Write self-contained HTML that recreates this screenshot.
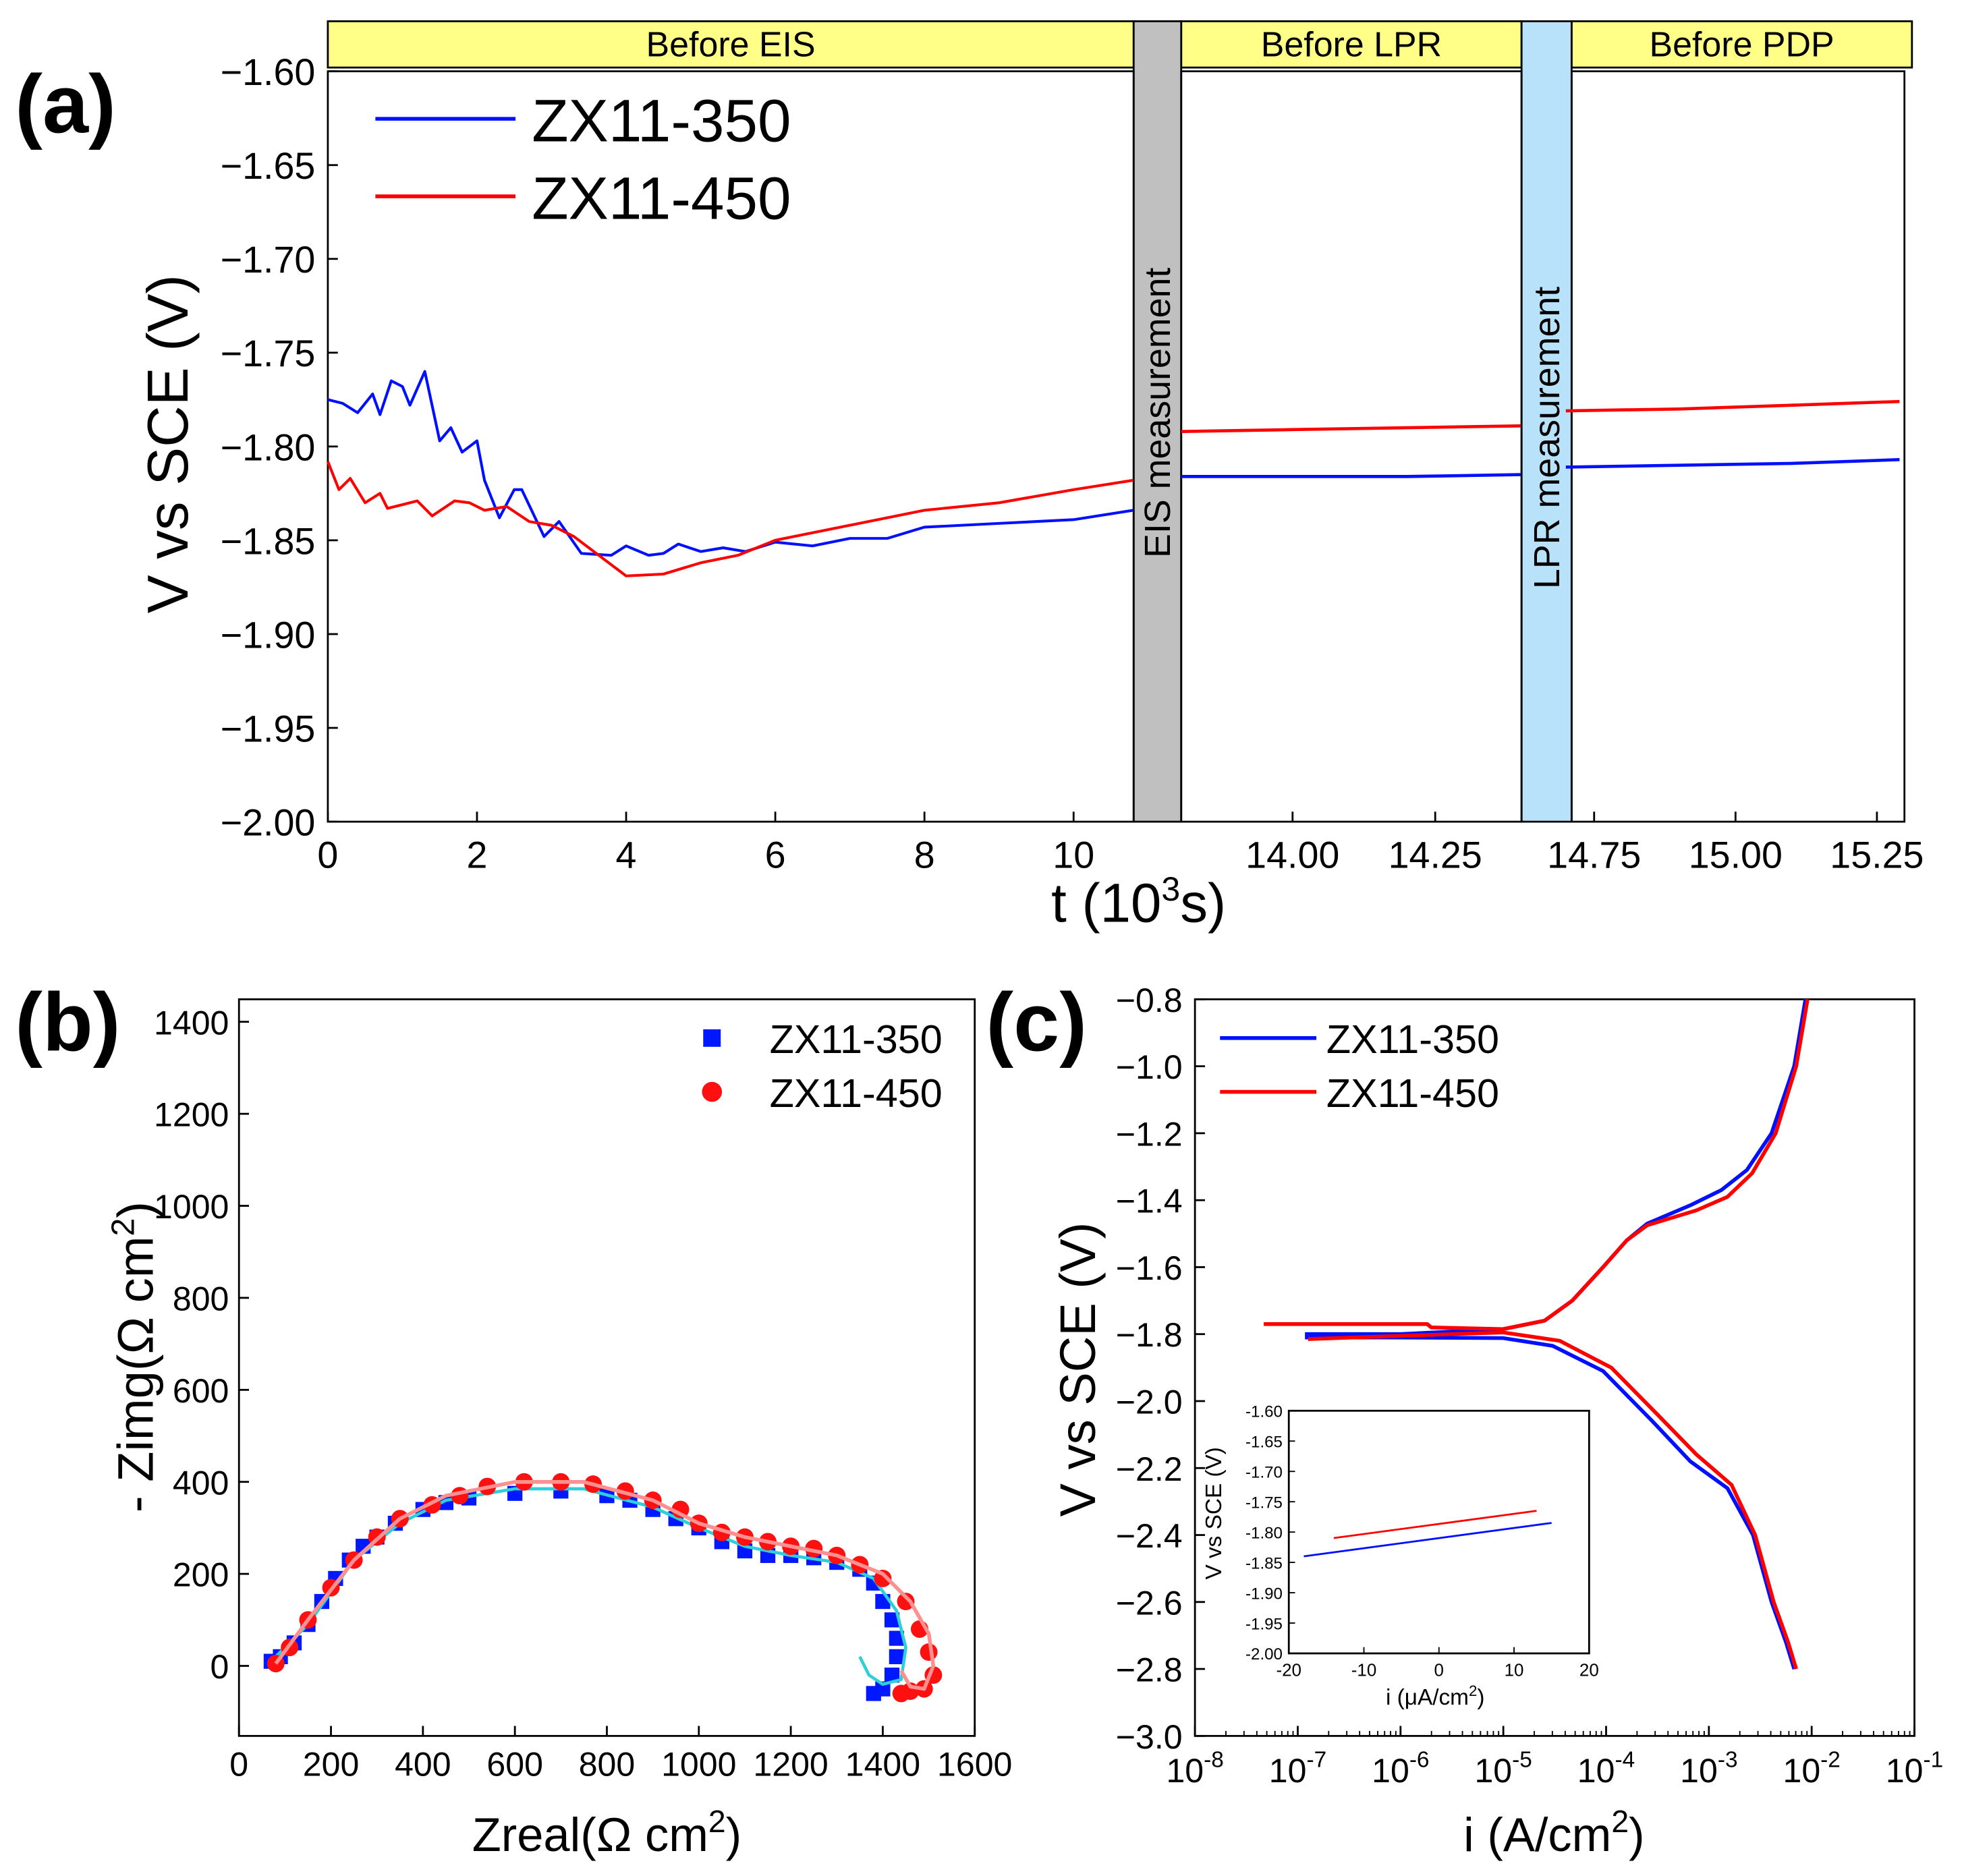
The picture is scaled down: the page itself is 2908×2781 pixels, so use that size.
<!DOCTYPE html>
<html><head><meta charset="utf-8"><style>
html,body{margin:0;padding:0;background:#fff}
svg{display:block;font-family:"Liberation Sans",Arial,sans-serif}
</style></head><body>
<svg id="fig" xmlns="http://www.w3.org/2000/svg" width="2908" height="2781" viewBox="0 0 1568 1500" preserveAspectRatio="none"></svg>
<script>
// ---------- Panel (a) data ----------
const aBlueT1=[0,0.2,0.4,0.6,0.7,0.85,1.0,1.1,1.3,1.5,1.65,1.8,2.0,2.1,2.3,2.5,2.6,2.9,3.1,3.4,3.8,4.0,4.3,4.5,4.7,5.0,5.3,5.6,6.0,6.5,7.0,7.5,8.0,9.0,10.0,10.8];
const aBlueV1=[-1.775,-1.777,-1.782,-1.772,-1.783,-1.765,-1.768,-1.778,-1.760,-1.797,-1.790,-1.803,-1.797,-1.818,-1.838,-1.823,-1.823,-1.848,-1.840,-1.857,-1.858,-1.853,-1.858,-1.857,-1.852,-1.856,-1.854,-1.856,-1.851,-1.853,-1.849,-1.849,-1.843,-1.841,-1.839,-1.834];
const aRedT1=[0,0.15,0.3,0.5,0.7,0.8,1.0,1.2,1.4,1.7,1.9,2.1,2.4,2.7,3.0,3.3,3.7,4.0,4.5,5.0,5.5,6.0,7.0,8.0,9.0,10.0,10.8];
const aRedV1=[-1.808,-1.823,-1.817,-1.830,-1.825,-1.833,-1.831,-1.829,-1.837,-1.829,-1.830,-1.834,-1.832,-1.840,-1.842,-1.848,-1.860,-1.869,-1.868,-1.862,-1.858,-1.850,-1.842,-1.834,-1.830,-1.823,-1.818];
const aT2=[13.805,14.0,14.2,14.4];
const aBlueV2=[-1.816,-1.816,-1.816,-1.815];
const aRedV2=[-1.792,-1.791,-1.790,-1.789];
const aT3=[14.7,14.9,15.1,15.29];
const aBlueV3=[-1.811,-1.810,-1.809,-1.807];
const aRedV3=[-1.781,-1.780,-1.778,-1.776];
const aYTicks=[-1.60,-1.65,-1.70,-1.75,-1.80,-1.85,-1.90,-1.95,-2.00];
const aXTicks1=[0,2,4,6,8,10];
const aXTicks2=[14.00,14.25];
const aXTicks3=[14.75,15.00,15.25];
// ---------- Panel (b) data ----------
const bBlueX=[70,90,120,150,180,210,240,270,300,340,400,450,500,600,700,800,850,900,950,1000,1050,1100,1150,1200,1250,1300,1350,1380,1400,1420,1430,1430,1420,1400,1380];
const bBlueY=[10,20,50,90,140,190,230,260,280,310,340,355,365,375,380,370,360,340,320,300,270,250,240,240,235,225,210,180,140,100,60,20,-20,-50,-60];
const bRedX=[80,110,150,200,250,300,350,420,480,540,620,700,770,840,900,960,1000,1050,1100,1150,1200,1250,1300,1350,1400,1450,1480,1500,1510,1490,1460,1440];
const bRedY=[5,40,100,170,230,280,320,350,370,390,400,400,395,380,360,340,310,290,280,270,260,255,240,220,190,140,80,30,-20,-50,-55,-60];
const bFitBlueX=[70,150,250,350,450,600,750,900,1000,1100,1200,1300,1380,1430,1450,1440,1400,1370,1350];
const bFitBlueY=[10,90,230,310,360,385,385,345,300,260,240,225,190,120,40,-30,-40,-20,20];
const bFitRedX=[80,150,250,350,450,600,750,900,1000,1100,1200,1300,1400,1460,1500,1510,1490,1460,1440];
const bFitRedY=[5,100,230,320,370,400,400,360,310,280,260,240,200,140,70,0,-50,-45,-10];
const bXTicks=[0,200,400,600,800,1000,1200,1400,1600];
const bYTicks=[0,200,400,600,800,1000,1200,1400];
// ---------- Panel (c) data ----------
const cBlueCathLog=[-6.93,-6.0,-5.0,-4.52,-4.03,-3.55,-3.18,-2.82,-2.57,-2.39,-2.25,-2.17];
const cBlueCathV=[-1.81,-1.81,-1.812,-1.835,-1.91,-2.06,-2.18,-2.26,-2.40,-2.60,-2.72,-2.80];
const cBlueAnLog=[-6.93,-6.0,-5.0,-4.6,-4.33,-4.03,-3.8,-3.6,-3.18,-2.88,-2.63,-2.39,-2.17,-2.06];
const cBlueAnV=[-1.80,-1.80,-1.785,-1.76,-1.70,-1.60,-1.52,-1.47,-1.415,-1.37,-1.31,-1.20,-1.00,-0.80];
const cRedCathLog=[-6.9,-6.0,-5.0,-4.45,-3.95,-3.5,-3.12,-2.78,-2.55,-2.37,-2.23,-2.15];
const cRedCathV=[-1.815,-1.805,-1.795,-1.82,-1.90,-2.04,-2.16,-2.25,-2.40,-2.60,-2.72,-2.80];
const cRedAnLog=[-7.33,-5.74,-5.7,-5.0,-4.6,-4.33,-4.03,-3.8,-3.6,-3.12,-2.82,-2.58,-2.35,-2.15,-2.04];
const cRedAnV=[-1.77,-1.77,-1.78,-1.785,-1.76,-1.70,-1.60,-1.52,-1.475,-1.43,-1.39,-1.32,-1.20,-1.00,-0.80];
const cYTicks=[-0.8,-1.0,-1.2,-1.4,-1.6,-1.8,-2.0,-2.2,-2.4,-2.6,-2.8,-3.0];
const cXExp=[-8,-7,-6,-5,-4,-3,-2,-1];
const inRedI=[-14,13];
const inRedV=[-1.81,-1.765];
const inBlueI=[-18,15];
const inBlueV=[-1.84,-1.785];
const inYTicks=[-1.60,-1.65,-1.70,-1.75,-1.80,-1.85,-1.90,-1.95,-2.00];
const inXTicks=[-20,-10,0,10,20];

const NS="http://www.w3.org/2000/svg";
const svg=document.getElementById('fig');
function el(tag,attrs,parent,text){const e=document.createElementNS(NS,tag);for(const k in attrs)e.setAttribute(k,attrs[k]);if(text!==undefined)e.textContent=text;(parent||svg).appendChild(e);return e;}
function lin(d0,d1,r0,r1){return v=>r0+(v-d0)*(r1-r0)/(d1-d0);}
function poly(xs,ys,fx,fy,color,w,name){const p=xs.map((x,i)=>fx(x).toFixed(1)+','+fy(ys[i]).toFixed(1)).join(' ');const e=el('polyline',{points:p,fill:'none',stroke:color,'stroke-width':w,'stroke-linejoin':'round'});


return e;}
function txt(x,y,s,size,anchor,extra,name){const e=el('text',Object.assign({x:x,y:y,'font-size':size,'text-anchor':anchor||'middle'},extra||{}),svg,s);


return e;}

// ===== Panel (a) =====
const aY=lin(-1.60,-2.00,57,657);
const ax1=lin(0,10,262,858), ax2=lin(14.0,14.25,1033,1147), ax3=lin(14.75,15.0,1274,1387);
[[262,906,'Before EIS'],[944,1216,'Before LPR'],[1256,1528,'Before PDP']].forEach(h=>{
 const r=el('rect',{x:h[0],y:17,width:h[1]-h[0],height:37,fill:'#ffff88',stroke:'#000','stroke-width':1.5});
 
 
 txt((h[0]+h[1])/2,45,h[2],28,'middle',{},'header-label');
});
const g1=el('rect',{x:906,y:17,width:38,height:640,fill:'#c0c0c0',stroke:'#000','stroke-width':1.5});

const g2=el('rect',{x:1216,y:17,width:40,height:640,fill:'#b8e2fa',stroke:'#000','stroke-width':1.5});

txt(0,0,'EIS measurement',29,'middle',{transform:'translate(935,330) rotate(-90)'},'eis-band-label');
txt(0,0,'LPR measurement',29,'middle',{transform:'translate(1246,350) rotate(-90)'},'lpr-band-label');
[[262,906],[944,1216],[1256,1522]].forEach(s=>{const r=el('rect',{x:s[0],y:57,width:s[1]-s[0],height:600,fill:'none',stroke:'#000','stroke-width':1.5});});
aYTicks.forEach(v=>{el('line',{x1:262,x2:270,y1:aY(v),y2:aY(v),stroke:'#000','stroke-width':1.5});txt(252,aY(v)+11,(v.toFixed(2)).replace('-','\u2212'),30,'end',{},'y-tick-a');});
aXTicks1.forEach(v=>{el('line',{x1:ax1(v),x2:ax1(v),y1:657,y2:649,stroke:'#000','stroke-width':1.5});txt(ax1(v),694,String(v),30,'middle',{},'x-tick-a');});
aXTicks2.forEach(v=>{el('line',{x1:ax2(v),x2:ax2(v),y1:657,y2:649,stroke:'#000','stroke-width':1.5});txt(ax2(v),694,v.toFixed(2),30,'middle',{},'x-tick-a');});
aXTicks3.forEach(v=>{el('line',{x1:ax3(v),x2:ax3(v),y1:657,y2:649,stroke:'#000','stroke-width':1.5});txt(ax3(v),694,v.toFixed(2),30,'middle',{},'x-tick-a');});
poly(aBlueT1,aBlueV1,ax1,aY,'#0010ff',2.2,'zx11-350-ocp-1');
poly(aRedT1,aRedV1,ax1,aY,'#ff0000',2.2,'zx11-450-ocp-1');
poly(aT2,aBlueV2,ax2,aY,'#0010ff',2.5,'zx11-350-ocp-2');
poly(aT2,aRedV2,ax2,aY,'#ff0000',2.5,'zx11-450-ocp-2');
poly(aT3,aBlueV3,ax3,aY,'#0010ff',2.5,'zx11-350-ocp-3');
poly(aT3,aRedV3,ax3,aY,'#ff0000',2.5,'zx11-450-ocp-3');
el('line',{x1:300,x2:412,y1:95,y2:95,stroke:'#0010ff','stroke-width':3});
txt(425,113,'ZX11-350',48,'start',{},'legend-entry-350');
el('line',{x1:300,x2:412,y1:157,y2:157,stroke:'#ff0000','stroke-width':3});
txt(425,175,'ZX11-450',48,'start',{},'legend-entry-450');
txt(0,0,'V vs SCE (V)',46,'middle',{transform:'translate(150,355) rotate(-90)'},'y-axis-title-a');
const xt=txt(910,737,'t (10',44,'middle',{},'x-axis-title-a');
el('tspan',{dy:-17,'font-size':27},xt,'3');el('tspan',{dy:17},xt,'s)');
txt(12,106,'(a)',66,'start',{'font-weight':'bold'},'panel-label-a');

// ===== Panel (b) =====
const bX=lin(0,1600,191,779), bY=lin(0,1400,1332,817);
const fb=el('rect',{x:191,y:799,width:588,height:589,fill:'none',stroke:'#000','stroke-width':1.5});

bXTicks.forEach(v=>{el('line',{x1:bX(v),x2:bX(v),y1:1388,y2:1380,stroke:'#000','stroke-width':1.5});txt(bX(v),1420,String(v),27,'middle',{},'x-tick-b');});
bYTicks.forEach(v=>{el('line',{x1:191,x2:199,y1:bY(v),y2:bY(v),stroke:'#000','stroke-width':1.5});txt(183,bY(v)+10,String(v),27,'end',{},'y-tick-b');});
bBlueX.forEach((x,i)=>{const r=el('rect',{x:bX(x)-6,y:bY(bBlueY[i])-6,width:12,height:12,fill:'#0018ff'});
});
poly(bFitBlueX,bFitBlueY,bX,bY,'#2ecfd8',2.5,'fit-line-350');
bRedX.forEach((x,i)=>{const c=el('circle',{cx:bX(x),cy:bY(bRedY[i]),r:7,fill:'#ff1010'});
});
poly(bFitRedX,bFitRedY,bX,bY,'#ff9090',3,'fit-line-450');
el('rect',{x:562,y:823,width:14,height:14,fill:'#0018ff'});
txt(615,842,'ZX11-350',32,'start',{},'legend-entry-b-350');
el('circle',{cx:569,cy:873,r:8,fill:'#ff1010'});
txt(615,885,'ZX11-450',32,'start',{},'legend-entry-b-450');
const yb=txt(0,0,'- Zimg(\u03A9 cm',40,'middle',{transform:'translate(122,1085) rotate(-90)'},'y-axis-title-b');
el('tspan',{dy:-15,'font-size':26},yb,'2');el('tspan',{dy:15},yb,')');
const xb=txt(485,1480,'Zreal(\u03A9 cm',38,'middle',{},'x-axis-title-b');
el('tspan',{dy:-15,'font-size':25},xb,'2');el('tspan',{dy:15},xb,')');
txt(12,840,'(b)',66,'start',{'font-weight':'bold'},'panel-label-b');

// ===== Panel (c) =====
const cX=lin(-8,-1,955,1530), cY=lin(-0.8,-3.0,799,1388);
const fc=el('rect',{x:955,y:799,width:575,height:589,fill:'none',stroke:'#000','stroke-width':1.5});

cYTicks.forEach(v=>{el('line',{x1:955,x2:963,y1:cY(v),y2:cY(v),stroke:'#000','stroke-width':1.5});txt(945,cY(v)+10,v.toFixed(1).replace('-','\u2212'),27,'end',{},'y-tick-c');});
cXExp.forEach(v=>{el('line',{x1:cX(v),x2:cX(v),y1:1388,y2:1380,stroke:'#000','stroke-width':1.5});
 if(v<-1){for(let k=2;k<10;k++){const x=cX(v+Math.log10(k));el('line',{x1:x,x2:x,y1:1388,y2:1384,stroke:'#000','stroke-width':1});}}
 const t=txt(cX(v),1425,'10',27,'middle',{},'x-tick-c');el('tspan',{dy:-12,'font-size':18},t,String(v));});
poly(cBlueCathLog,cBlueCathV,cX,cY,'#0010ff',3,'zx11-350-cathodic');
poly(cBlueAnLog,cBlueAnV,cX,cY,'#0010ff',3,'zx11-350-anodic');
poly(cRedCathLog,cRedCathV,cX,cY,'#ff0000',3,'zx11-450-cathodic');
poly(cRedAnLog,cRedAnV,cX,cY,'#ff0000',3,'zx11-450-anodic');
el('line',{x1:975,x2:1052,y1:830,y2:830,stroke:'#0010ff','stroke-width':3});
txt(1060,842,'ZX11-350',32,'start',{},'legend-entry-c-350');
el('line',{x1:975,x2:1052,y1:873,y2:873,stroke:'#ff0000','stroke-width':3});
txt(1060,885,'ZX11-450',32,'start',{},'legend-entry-c-450');
txt(0,0,'V vs SCE (V)',40,'middle',{transform:'translate(875,1095) rotate(-90)'},'y-axis-title-c');
const xc=txt(1242,1480,'i (A/cm',38,'middle',{},'x-axis-title-c');
el('tspan',{dy:-15,'font-size':25},xc,'2');el('tspan',{dy:15},xc,')');
txt(788,840,'(c)',66,'start',{'font-weight':'bold'},'panel-label-c');
const iX=lin(-20,20,1030,1270), iY=lin(-1.60,-2.00,1128,1322);
const fi=el('rect',{x:1030,y:1128,width:240,height:194,fill:'#fff',stroke:'#000','stroke-width':1.5});

inYTicks.forEach(v=>{el('line',{x1:1030,x2:1035,y1:iY(v),y2:iY(v),stroke:'#000','stroke-width':1});txt(1025,iY(v)+5,v.toFixed(2),13,'end',{},'inset-y-tick');});
inXTicks.forEach(v=>{el('line',{x1:iX(v),x2:iX(v),y1:1322,y2:1317,stroke:'#000','stroke-width':1});txt(iX(v),1340,String(v),14,'middle',{},'inset-x-tick');});
poly(inRedI,inRedV,iX,iY,'#ff0000',1.5,'inset-line-450');
poly(inBlueI,inBlueV,iX,iY,'#0010ff',1.5,'inset-line-350');
txt(0,0,'V vs SCE (V)',18,'middle',{transform:'translate(976,1210) rotate(-90)'},'inset-y-title');
const xi=txt(1147,1363,'i (\u03BCA/cm',18,'middle',{},'inset-x-title');
el('tspan',{dy:-7,'font-size':12},xi,'2');el('tspan',{dy:7},xi,')');
</script>
</body></html>
